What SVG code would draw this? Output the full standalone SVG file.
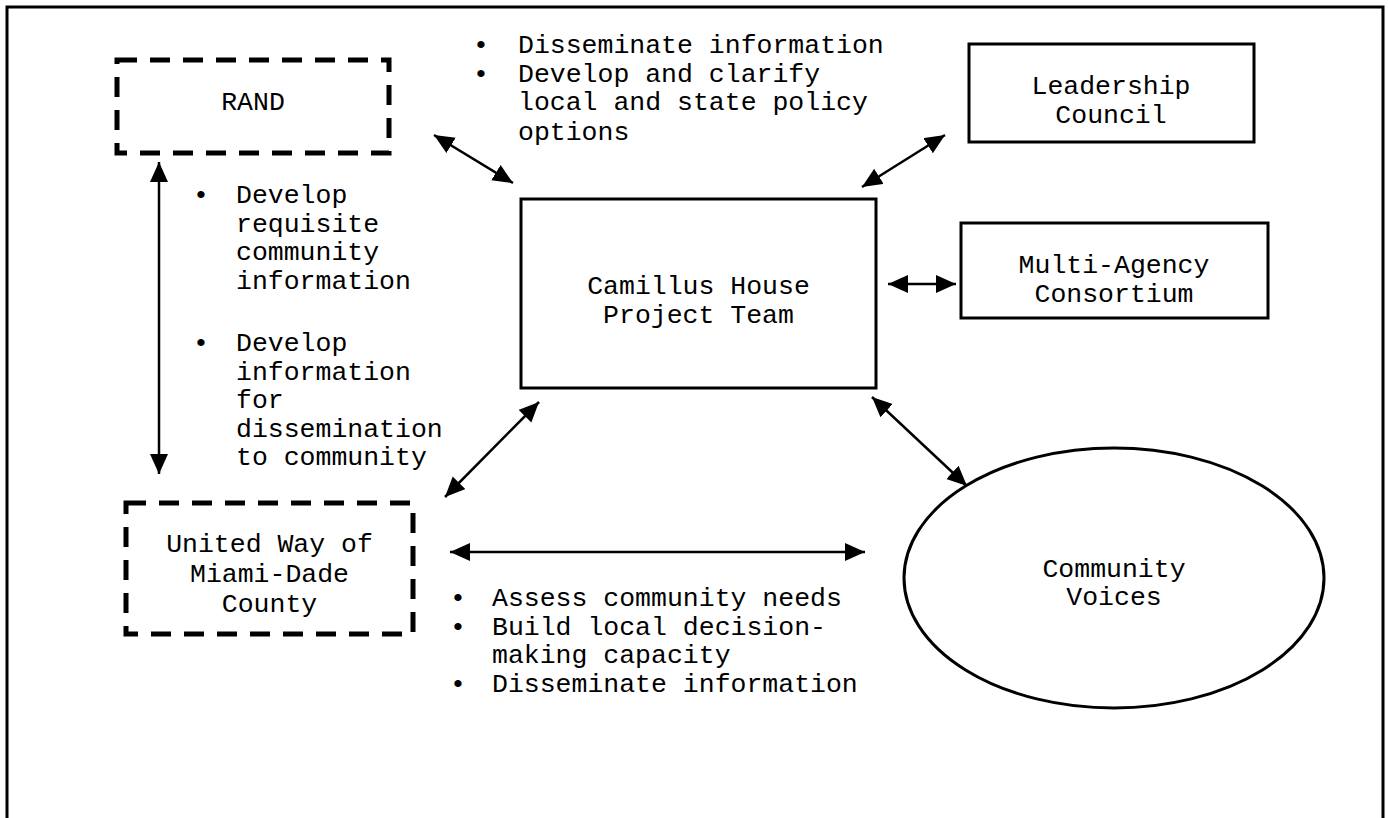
<svg xmlns="http://www.w3.org/2000/svg" width="1388" height="818" viewBox="0 0 1388 818">
<style>
text{font-family:"Liberation Mono","Courier New",monospace;font-size:26.5px;fill:#000}
.c{text-anchor:middle}
.box{fill:none;stroke:#000;stroke-width:3}
.dash{fill:none;stroke:#000;stroke-width:5;stroke-dasharray:20 13}
.arr{stroke:#000;stroke-width:2.5;fill:none;marker-start:url(#ah);marker-end:url(#ah)}
</style>
<defs>
<marker id="ah" markerUnits="userSpaceOnUse" markerWidth="22" markerHeight="20" refX="20" refY="9" orient="auto-start-reverse" viewBox="0 0 22 20">
<path d="M0,0 L20,9 L0,18 z" fill="#000"/>
</marker>
</defs>
<rect width="1388" height="818" fill="#fff"/>
<path d="M7,818 V7 H1383 V818" fill="none" stroke="#000" stroke-width="3"/>

<g id="rand">
<rect class="dash" x="117" y="60" width="272" height="93"/>
<text class="c" x="253" y="110">RAND</text>
</g>
<g id="leadership">
<rect class="box" x="969" y="44" width="285" height="98"/>
<text class="c" x="1111" y="94">Leadership</text>
<text class="c" x="1111" y="123">Council</text>
</g>
<g id="camillus">
<rect class="box" x="521" y="199" width="355" height="189"/>
<text class="c" x="698.5" y="294">Camillus House</text>
<text class="c" x="698.5" y="323">Project Team</text>
</g>
<g id="multi">
<rect class="box" x="961" y="223" width="307" height="95"/>
<text class="c" x="1114" y="273">Multi-Agency</text>
<text class="c" x="1114" y="302">Consortium</text>
</g>
<g id="unitedway">
<rect class="dash" x="126" y="503" width="287" height="131"/>
<text class="c" x="269.5" y="552">United Way of</text>
<text class="c" x="269.5" y="582">Miami-Dade</text>
<text class="c" x="269.5" y="612">County</text>
</g>
<g id="community">
<ellipse cx="1114" cy="578" rx="210" ry="130" fill="none" stroke="#000" stroke-width="3"/>
<text class="c" x="1114" y="577">Community</text>
<text class="c" x="1114" y="605">Voices</text>
</g>

<g id="labels">
<text x="473" y="53">•</text><text x="518" y="53">Disseminate information</text>
<text x="473" y="82">•</text><text x="518" y="82">Develop and clarify</text>
<text x="518" y="110">local and state policy</text>
<text x="518" y="140">options</text>

<text x="193" y="203">•</text><text x="236" y="203">Develop</text>
<text x="236" y="231.5">requisite</text>
<text x="236" y="260">community</text>
<text x="236" y="288.5">information</text>
<text x="193" y="351">•</text><text x="236" y="351">Develop</text>
<text x="236" y="379.5">information</text>
<text x="236" y="408">for</text>
<text x="236" y="436.5">dissemination</text>
<text x="236" y="465">to community</text>

<text x="450" y="606">•</text><text x="492" y="606">Assess community needs</text>
<text x="450" y="635">•</text><text x="492" y="635">Build local decision-</text>
<text x="492" y="663">making capacity</text>
<text x="450" y="692">•</text><text x="492" y="692">Disseminate information</text>
</g>

<g id="connectors">
<line class="arr" x1="434" y1="135" x2="513" y2="183"/>
<line class="arr" x1="945" y1="135" x2="862" y2="187"/>
<line class="arr" x1="159" y1="162" x2="159" y2="474"/>
<line class="arr" x1="888" y1="284" x2="956" y2="284"/>
<line class="arr" x1="539" y1="402" x2="445" y2="497"/>
<line class="arr" x1="872" y1="397" x2="967" y2="486"/>
<line class="arr" x1="450" y1="552" x2="865" y2="552"/>
</g>
</svg>
